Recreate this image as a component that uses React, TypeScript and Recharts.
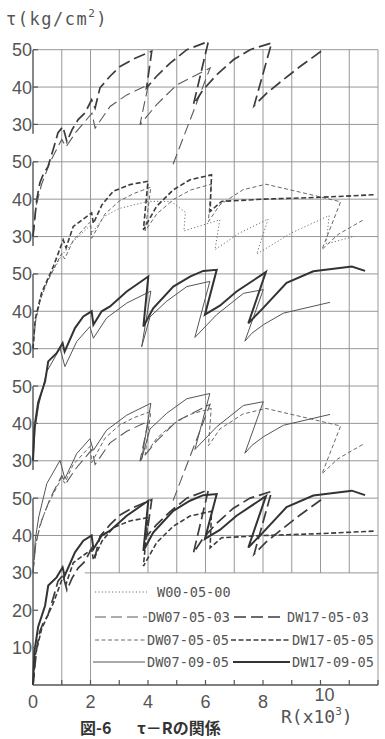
import { LineChart, Line, XAxis, YAxis, ReferenceLine } from 'recharts'

const w00R = [0, 0.1, 0.3, 0.5, 1.0, 1.5, 2.0, 2.05, 2.5, 3.0, 4.0, 4.8, 5.3, 5.25, 6.5, 6.33, 7.2, 8.18, 7.78, 9.0, 10.3, 10.2, 11.14]
const w00Tau = [0, 8, 14, 18, 25, 29.5, 33, 31, 35.5, 37.5, 39.4, 39.4, 36.5, 31.5, 34.5, 26.5, 31, 34.7, 25.3, 31, 35.6, 28, 30]

const dw070503R = [0, 0.1, 0.3, 0.6, 1.0, 1.15, 1.5, 2.05, 2.16, 2.68, 3.26, 4.01, 3.72, 4.3, 5.0, 6.16, 4.82]
const dw070503Tau = [0, 8, 14, 20, 26, 24, 28, 33, 29.0, 34.8, 37.9, 40.6, 29.9, 35.3, 40.6, 45.1, 18.3]

const dw170503R = [0, 0.13, 0.24, 0.35, 0.52, 0.7, 0.87, 1.04, 1.18, 1.36, 1.57, 1.81, 2.04, 2.16, 2.33, 2.68, 3.03, 3.49, 4.13, 3.95, 4.3, 4.77, 5.35, 6.1, 5.58, 5.92, 6.39, 6.97, 7.55, 8.3, 7.69, 8.13, 8.71, 9.29, 10.1]
const dw170503Tau = [0, 9.9, 14.4, 16.5, 18.7, 23.2, 27.8, 29.4, 25.4, 28.6, 31.3, 33.1, 36.6, 34.4, 39.8, 42.9, 45.5, 47.5, 49.6, 39.8, 42.9, 46.4, 50.0, 52.2, 35.3, 39.3, 43.3, 47.3, 50.0, 51.8, 35.0, 38.4, 42.0, 45.5, 50.0]

const dw070505R = [0, 0.08, 0.25, 0.5, 0.7, 1.0, 1.1, 1.4, 2.0, 2.04, 2.5, 3.0, 3.5, 4.1, 3.9, 4.3, 4.9, 5.5, 6.2, 6.1, 6.5, 7.3, 8.1, 9.5, 10.7, 10.05, 10.6, 11.5]
const dw070505Tau = [0, 7, 13, 18, 21, 25.5, 24, 29, 34, 29.5, 36, 39.5, 41.5, 43.2, 31.5, 36, 40, 42.5, 44, 34, 38.5, 42.5, 44, 41.5, 39.3, 26.5, 30.5, 34.5]

const dw170505R = [0, 0.08, 0.3, 0.71, 1.05, 1.15, 1.4, 2.04, 2.1, 2.4, 2.79, 3.37, 4.0, 3.84, 4.3, 4.88, 5.46, 6.21, 6.16, 6.56, 8, 10, 11.9]
const dw170505Tau = [0, 8, 15, 22, 29.1, 27, 32.7, 36.3, 33.5, 38.5, 42.1, 43.9, 44.8, 31.8, 38.1, 42.5, 45.2, 46.5, 36.7, 39.4, 40, 40.5, 41.2]

const dw070905R = [0, 0.08, 0.2, 0.48, 0.94, 1.11, 1.52, 1.98, 2.1, 2.56, 3.26, 4.1, 3.78, 4.07, 4.65, 5.35, 6.15, 5.63, 6.39, 7.32, 8.01, 7.37, 7.61, 8.01, 8.71, 10.33]
const dw070905Tau = [0, 9, 15, 23.9, 30.1, 25.2, 31.9, 35.9, 32.8, 38.2, 42.2, 45.4, 30.5, 38.5, 42.7, 46.6, 48.0, 33.0, 39.1, 44.8, 45.8, 32.0, 34.1, 36.4, 39.5, 42.4]

const dw170905R = [0, 0.05, 0.18, 0.42, 0.53, 0.82, 1.03, 1.1, 1.46, 1.75, 2.04, 2.1, 2.39, 2.68, 3.26, 4.01, 3.84, 4.18, 4.88, 5.46, 5.92, 6.39, 5.98, 6.5, 7.08, 8.1, 7.49, 8.01, 8.82, 9.75, 11.09, 11.55]
const dw170905Tau = [0, 9, 15.6, 21.2, 26.6, 28.8, 31.5, 29.2, 35.5, 38.6, 40.0, 36.4, 40.0, 41.3, 45.3, 49.3, 35.9, 40.8, 46.6, 49.3, 50.8, 51.1, 39.1, 41.5, 45.3, 50.5, 36.8, 40.9, 47.6, 50.7, 52.0, 50.8]

const series: Record<string, { r: number[]; tau: number[] }> = {
  'W00-05-00': { r: w00R, tau: w00Tau },
  'DW07-05-03': { r: dw070503R, tau: dw070503Tau },
  'DW17-05-03': { r: dw170503R, tau: dw170503Tau },
  'DW07-05-05': { r: dw070505R, tau: dw070505Tau },
  'DW17-05-05': { r: dw170505R, tau: dw170505Tau },
  'DW07-09-05': { r: dw070905R, tau: dw070905Tau },
  'DW17-09-05': { r: dw170905R, tau: dw170905Tau },
}

// five stacked panels, each shifted up by 30 kg/cm2 on one shared axis
const panelShift = [120, 90, 60, 30, 0]
const panelSeries = [
  ['DW07-05-03', 'DW17-05-03'],
  ['W00-05-00', 'DW07-05-05', 'DW17-05-05'],
  ['DW07-09-05', 'DW17-09-05'],
  ['DW07-05-03', 'DW07-05-05', 'DW07-09-05'],
  ['DW17-05-03', 'DW17-05-05', 'DW17-09-05'],
]

const xTicks = [0, 1, 2, 3, 4, 5, 6, 7, 8, 9, 10, 11, 12]
const xLabelTicks = [0, 2, 4, 6, 8, 10]
const yTicks = [10, 20, 30, 40, 50, 60, 70, 80, 90, 100, 110, 120, 130, 140, 150, 160, 170]

const styles: Record<string, { stroke: string; width: number; dash?: string }> = {
  'W00-05-00': { stroke: '#707070', width: 1, dash: '1.2 2.2' },
  'DW07-05-03': { stroke: '#5a5a5a', width: 1.1, dash: '11 5' },
  'DW17-05-03': { stroke: '#3c3c3c', width: 1.7, dash: '12 5' },
  'DW07-05-05': { stroke: '#686868', width: 1, dash: '4 2.5' },
  'DW17-05-05': { stroke: '#3c3c3c', width: 1.6, dash: '5 2.5' },
  'DW07-09-05': { stroke: '#555', width: 1 },
  'DW17-09-05': { stroke: '#333', width: 2 },
}

const legendRows = [
  { y: 592, items: [{ name: 'W00-05-00', x1: 95, x2: 147, tx: 157 }] },
  { y: 617, items: [{ name: 'DW07-05-03', x1: 95, x2: 147, tx: 148 }, { name: 'DW17-05-03', x1: 234, x2: 285, tx: 287 }] },
  { y: 640, items: [{ name: 'DW07-05-05', x1: 95, x2: 147, tx: 147 }, { name: 'DW17-05-05', x1: 231, x2: 291, tx: 292 }] },
  { y: 662, items: [{ name: 'DW07-09-05', x1: 93, x2: 145, tx: 147 }, { name: 'DW17-09-05', x1: 233, x2: 290, tx: 292 }] },
]

const gridColor = '#8c8c8c'
const inkColor = '#555'

const yLabel = (v: number) => (v <= 50 ? v : 30 + ((v - 60) % 30))

function YTick(props: any) {
  const { x, y, payload } = props
  return (
    <g>
      <line x1={x} x2={x + 5} y1={y} y2={y} stroke={inkColor} strokeWidth={1.2} />
      <text x={x - 1} y={y + 6.5} textAnchor="end" fontFamily="Liberation Sans" fontSize={18} fill={inkColor}>
        {yLabel(payload.value)}
      </text>
    </g>
  )
}

function XTick(props: any) {
  const { x, y, payload } = props
  const v = payload.value
  const ten = v === 10
  return (
    <g>
      {v > 0 && <line x1={x} x2={x} y1={y} y2={y - 5} stroke={inkColor} strokeWidth={1.2} />}
      {xLabelTicks.includes(v) && (
        <text x={ten ? x + 4 : x} y={ten ? y + 16 : y + 23} textAnchor="middle" fontFamily="Liberation Sans" fontSize={18} fill={inkColor}>
          {v}
        </text>
      )}
    </g>
  )
}

export default function App() {
  const lines = panelSeries.flatMap((names, p) =>
    names.map((name) => ({
      key: `${p}-${name}`,
      name,
      data: series[name].r.map((r, i) => ({ r, v: series[name].tau[i] + panelShift[p] })),
    }))
  )

  return (
    <div style={{ position: 'absolute', left: 0, top: 0, width: 385, height: 739, background: '#fff' }}>
      <LineChart width={385} height={739} margin={{ top: 31, right: 7, bottom: 0, left: 0 }}>
        <XAxis
          type="number"
          dataKey="r"
          domain={[0, 12]}
          ticks={xTicks}
          interval={0}
          height={54}
          tickSize={0}
          tickMargin={0}
          tickLine={false}
          axisLine={{ stroke: inkColor, strokeWidth: 1.4 }}
          tick={(p: any) => <XTick {...p} />}
        />
        <YAxis
          type="number"
          domain={[0, 175]}
          ticks={yTicks}
          interval={0}
          width={33}
          tickSize={0}
          tickMargin={0}
          tickLine={false}
          axisLine={false}
          tick={(p: any) => <YTick {...p} />}
        />
        {xTicks.slice(1).map((k) => (
          <ReferenceLine
            key={`vx${k}`}
            segment={[{ x: k, y: k >= 3 && k <= 11 ? 30 : 0 }, { x: k, y: 170 }]}
            stroke={gridColor}
            strokeWidth={0.9}
          />
        ))}
        {yTicks.filter((v) => v >= 30).map((v) => (
          <ReferenceLine
            key={`hy${v}`}
            segment={[{ x: v === 30 ? 1.8 : 0, y: v }, { x: 12, y: v }]}
            stroke={gridColor}
            strokeWidth={0.9}
          />
        ))}
        {panelShift.map((s) => (
          <ReferenceLine
            key={`ax${s}`}
            segment={[{ x: 0, y: s === 0 ? 0 : s + 27.5 }, { x: 0, y: s + 50 }]}
            stroke={inkColor}
            strokeWidth={1.4}
          />
        ))}
        {lines.map((l) => (
          <Line
            key={l.key}
            data={l.data}
            dataKey="v"
            type="linear"
            stroke={styles[l.name].stroke}
            strokeWidth={styles[l.name].width}
            strokeDasharray={styles[l.name].dash}
            dot={false}
            activeDot={false}
            isAnimationActive={false}
          />
        ))}
      </LineChart>
      <svg width={385} height={739} style={{ position: 'absolute', left: 0, top: 0, pointerEvents: 'none' }}>
        <text x={6} y={25} fontFamily="DejaVu Sans Mono" fontSize={17} letterSpacing={1.5} fill={inkColor}>
          τ(kg/cm<tspan fontSize={11} dy={-8}>2</tspan><tspan dy={8}>)</tspan>
        </text>
        {legendRows.map((row) =>
          row.items.map((it) => (
            <g key={it.name}>
              <line
                x1={it.x1}
                x2={it.x2}
                y1={row.y}
                y2={row.y}
                stroke={styles[it.name].stroke}
                strokeWidth={styles[it.name].width}
                strokeDasharray={styles[it.name].dash}
              />
              <text x={it.tx} y={row.y + 5} fontFamily="DejaVu Sans Mono" fontSize={13.6} fill={inkColor}>
                {it.name}
              </text>
            </g>
          ))
        )}
        <text x={281} y={723} fontFamily="DejaVu Sans Mono" fontSize={18} fill={inkColor}>
          R(x10<tspan fontSize={11} dy={-8}>3</tspan><tspan dy={8}>)</tspan>
        </text>
        <text x={80} y={734} fontFamily="Noto Sans CJK JP" fontWeight={700} fontSize={16} fill="#333">
          図-6
        </text>
        <text x={137} y={734} fontFamily="Noto Sans CJK JP" fontWeight={700} fontSize={16} fill="#333">
          τ－Rの関係
        </text>
      </svg>
    </div>
  )
}
